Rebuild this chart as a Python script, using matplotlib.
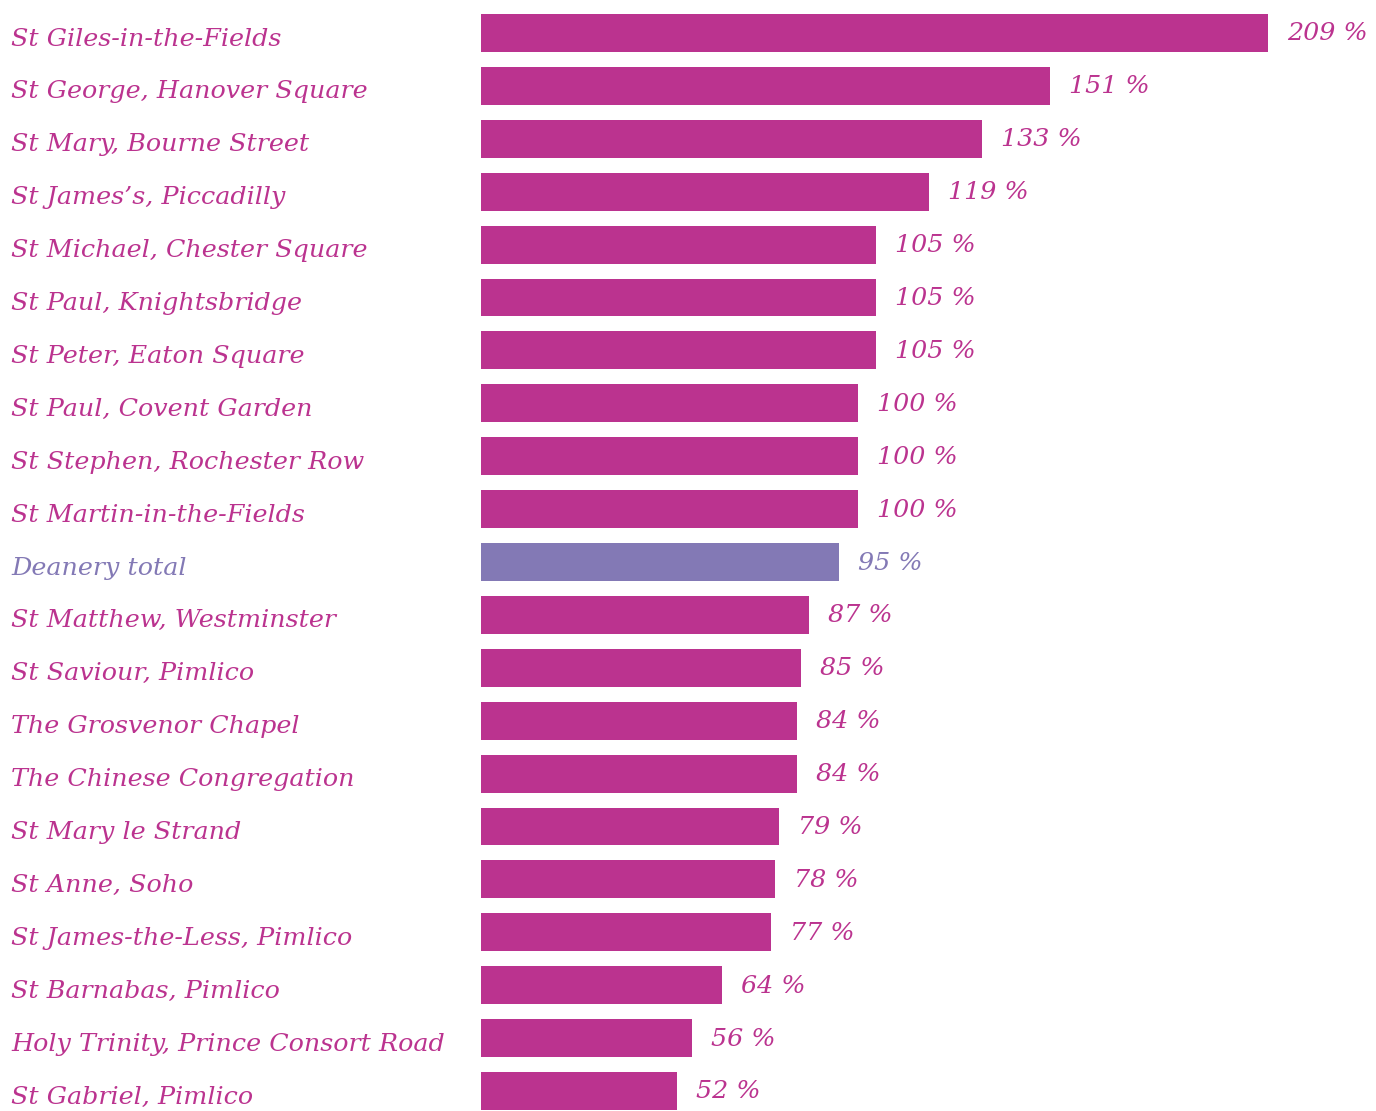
import matplotlib
matplotlib.use("Agg")
import matplotlib.pyplot as plt

churches = [
    "St Giles-in-the-Fields", "St George, Hanover Square", "St Mary, Bourne Street",
    "St James\u2019s, Piccadilly", "St Michael, Chester Square", "St Paul, Knightsbridge",
    "St Peter, Eaton Square", "St Paul, Covent Garden", "St Stephen, Rochester Row",
    "St Martin-in-the-Fields", "Deanery total", "St Matthew, Westminster",
    "St Saviour, Pimlico", "The Grosvenor Chapel", "The Chinese Congregation",
    "St Mary le Strand", "St Anne, Soho", "St James-the-Less, Pimlico",
    "St Barnabas, Pimlico", "Holy Trinity, Prince Consort Road", "St Gabriel, Pimlico",
]
percent = [209, 151, 133, 119, 105, 105, 105, 100, 100, 100, 95,
           87, 85, 84, 84, 79, 78, 77, 64, 56, 52]

MAGENTA = "#bb338f"
PURPLE = "#8379b5"

fig = plt.figure(figsize=(13.76, 11.11), dpi=100)
ax = fig.add_axes([481 / 1376, 0, 1 - 481 / 1376, 1])

colors = [PURPLE if c == "Deanery total" else MAGENTA for c in churches]
ypos = list(range(len(churches)))
ax.barh(ypos, percent, height=0.718, color=colors)

font = dict(family="DejaVu Serif", style="italic", size=18.3)
for y, c, v, col in zip(ypos, churches, percent, colors):
    ax.annotate(f"{v} %", (v, y), xytext=(19, -1), textcoords="offset pixels",
                va="center", ha="left", color=col, **font)
    ax.annotate(c, (0, y), xycoords=("figure fraction", "data"),
                xytext=(11, -6), textcoords="offset pixels",
                va="center", ha="left", color=col, **font)

ax.set_xlim(0, 895 / 3.766)
ax.set_ylim(20 + 20 / 52.9, -33 / 52.9)
ax.axis("off")

fig.savefig("out.png", dpi=100)
